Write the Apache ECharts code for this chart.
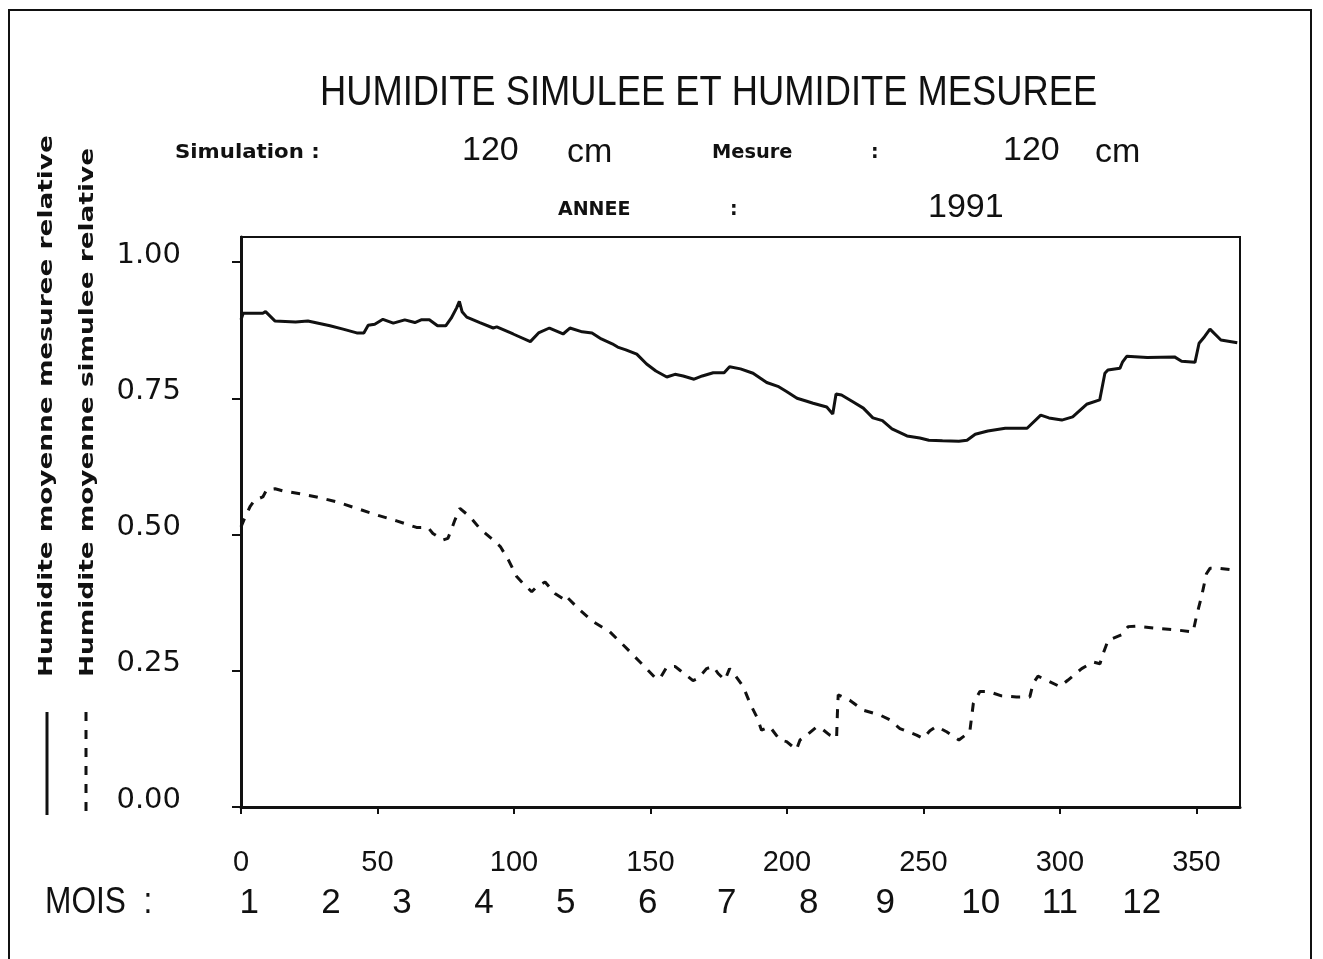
<!DOCTYPE html>
<html>
<head>
<meta charset="utf-8">
<title>Humidite simulee et humidite mesuree</title>
<script src="https://cdn.jsdelivr.net/npm/echarts@6/dist/echarts.min.js"></script>
<style>
  html, body { margin: 0; padding: 0; background: #fff; }
  #chart { width: 1323px; height: 959px; }
</style>
</head>
<body>
<div id="chart"></div>
<script>
// Day-of-year tick values and relative humidity ticks
const xTicks = [0, 50, 100, 150, 200, 250, 300, 350];
const yTicks = [0, 0.25, 0.5, 0.75, 1];

// Day positions where the month numbers are printed, and the numbers
const monthLabelDays = [3, 33, 59, 89, 119, 149, 178, 208, 236, 271, 300, 330];
const monthLabels = ['1', '2', '3', '4', '5', '6', '7', '8', '9', '10', '11', '12'];

// Mean measured relative humidity, 120 cm  [day, value]
const mesuree = [
  [0, 0.894], [0.8, 0.906], [8, 0.906], [9, 0.909], [12.4, 0.892], [20, 0.890],
  [24.5, 0.892], [32.6, 0.883], [37.4, 0.877], [42.4, 0.870], [45, 0.870],
  [46.6, 0.884], [49, 0.886], [52, 0.895], [55.8, 0.888], [60, 0.894],
  [63.7, 0.889], [66, 0.894], [69, 0.894], [72, 0.883], [75, 0.883], [77, 0.897],
  [79, 0.916], [80, 0.928], [81, 0.909], [82.7, 0.899], [87.5, 0.889],
  [92.4, 0.879], [93.7, 0.881], [99.7, 0.868], [106, 0.854], [109, 0.870],
  [113, 0.879], [118, 0.868], [120.5, 0.879], [125, 0.872], [128.6, 0.870],
  [132, 0.859], [136, 0.850], [138, 0.844], [141, 0.839], [145, 0.831],
  [148.6, 0.813], [152, 0.800], [156, 0.789], [159, 0.794], [162, 0.791],
  [166, 0.785], [169, 0.791], [173, 0.797], [177, 0.797], [179, 0.808],
  [183, 0.804], [187.6, 0.796], [192.6, 0.779], [196.7, 0.772], [200, 0.762],
  [203.7, 0.750], [207, 0.745], [209.6, 0.741], [214.6, 0.734], [216.8, 0.721],
  [218, 0.758], [220, 0.756], [224, 0.744], [228, 0.732], [231.5, 0.714],
  [235, 0.709], [238.5, 0.694], [244, 0.681], [248.7, 0.677], [252, 0.673],
  [257, 0.672], [263, 0.671], [266, 0.673], [269, 0.684], [273.6, 0.690],
  [280, 0.695], [288, 0.695], [293, 0.719], [296, 0.714], [300.7, 0.710],
  [304.7, 0.716], [309.8, 0.739], [314.6, 0.747], [316.5, 0.796], [317.6, 0.802],
  [322, 0.805], [323, 0.817], [324.5, 0.827], [332, 0.825], [342, 0.826],
  [344.6, 0.818], [349.5, 0.816], [351, 0.851], [353, 0.863], [355, 0.877],
  [359, 0.857], [365, 0.852]
];

// Mean simulated relative humidity, 120 cm  [day, value]
const simulee = [
  [0, 0.514], [1.5, 0.532], [3.3, 0.551], [5, 0.563], [8, 0.569], [9.4, 0.582],
  [12.5, 0.584], [15.5, 0.580], [21.6, 0.575], [27.7, 0.569], [35, 0.560],
  [42.4, 0.548], [49.7, 0.536], [57, 0.525], [64.3, 0.513], [68.5, 0.513],
  [70.3, 0.502], [74, 0.490], [75.8, 0.493], [77, 0.508], [78.4, 0.527],
  [80.2, 0.548], [84, 0.532], [87.5, 0.511], [92.4, 0.490], [95, 0.478],
  [98, 0.453], [101, 0.423], [103.4, 0.410], [106.5, 0.395], [108.3, 0.404],
  [111.4, 0.413], [115, 0.392], [118.7, 0.380], [119.3, 0.386], [124, 0.362],
  [129, 0.340], [135, 0.322], [140.7, 0.294], [146, 0.267], [152, 0.236],
  [153.5, 0.236], [156, 0.257], [159, 0.258], [160.8, 0.251], [165.6, 0.232],
  [167.4, 0.236], [170.6, 0.254], [173, 0.258], [174.8, 0.245], [177.3, 0.233],
  [179, 0.254], [181, 0.242], [184, 0.221], [186.5, 0.190], [189, 0.165],
  [190.7, 0.141], [193.8, 0.147], [197.4, 0.123], [199.9, 0.120], [203.5, 0.105],
  [204.8, 0.123], [207.8, 0.134], [210.9, 0.147], [212.7, 0.144], [215.7, 0.132],
  [218.2, 0.126], [218.5, 0.172], [218.8, 0.206], [223, 0.196], [227.8, 0.178],
  [234, 0.169], [237.7, 0.160], [241.4, 0.144], [247.5, 0.132], [249.9, 0.126],
  [252.4, 0.140], [254.8, 0.148], [258.5, 0.138], [263, 0.123], [267, 0.138],
  [268.3, 0.190], [270.7, 0.212], [273.8, 0.212], [278.6, 0.204], [284.1, 0.202],
  [289, 0.202], [290.2, 0.227], [292, 0.240], [295, 0.233], [300, 0.221],
  [303, 0.233], [308, 0.254], [312.2, 0.266], [314.7, 0.263], [315.9, 0.282],
  [317.7, 0.306], [322.6, 0.316], [325, 0.331], [328, 0.332], [335.4, 0.328],
  [342.7, 0.325], [348.8, 0.321], [350, 0.349], [351.9, 0.386], [353.7, 0.428],
  [355, 0.438], [358.6, 0.438], [363.5, 0.435], [365, 0.434]
];

const INK = '#111';
const thinFont = "'Liberation Sans', sans-serif";
const boldFont = "'DejaVu Sans', sans-serif";
const DASH = [9, 9];

function txt(x, y, text, size, family, opts) {
  opts = opts || {};
  return {
    type: 'text', x: x, y: y,
    rotation: opts.rotation || 0,
    scaleX: opts.scaleX || 1,
    silent: true,
    style: {
      text: text, fill: INK,
      fontSize: size, fontFamily: family,
      fontWeight: opts.weight || 'normal',
      align: opts.align || 'left', verticalAlign: 'middle'
    }
  };
}

const chart = echarts.init(document.getElementById('chart'), null, { renderer: 'canvas' });

chart.setOption({
  animation: false,
  backgroundColor: '#fff',
  grid: {
    left: 241, top: 237, right: 83, bottom: 152,
    show: true, borderColor: INK, borderWidth: 2, backgroundColor: 'transparent'
  },
  xAxis: [
    {
      type: 'value', min: 0, max: 366, position: 'bottom',
      axisLine: { show: true, onZero: false, lineStyle: { color: INK, width: 3 } },
      axisTick: { show: true, inside: false, length: 7, customValues: xTicks, lineStyle: { color: INK, width: 2 } },
      axisLabel: { customValues: xTicks, margin: 41, fontSize: 29, fontFamily: thinFont, color: INK },
      splitLine: { show: false }
    },
    {
      type: 'value', min: 0, max: 366, position: 'bottom',
      axisLine: { show: false },
      axisTick: { show: false },
      axisLabel: {
        customValues: monthLabelDays,
        formatter: function (v) { return monthLabels[monthLabelDays.indexOf(v)]; },
        margin: 79, fontSize: 35, fontFamily: thinFont, color: INK
      },
      splitLine: { show: false }
    }
  ],
  yAxis: {
    type: 'value', min: 0, max: 1.046,
    axisLine: { show: true, onZero: false, lineStyle: { color: INK, width: 3 } },
    axisTick: { show: true, inside: false, length: 9, customValues: yTicks, lineStyle: { color: INK, width: 2 } },
    axisLabel: {
      customValues: yTicks,
      formatter: function (v) { return v.toFixed(2); },
      margin: 60, fontSize: 29, fontFamily: boldFont, color: INK,
      verticalAlign: 'bottom', lineHeight: 14
    },
    splitLine: { show: false }
  },
  series: [
    {
      name: 'Humidite moyenne mesuree relative',
      type: 'line', xAxisIndex: 0, data: mesuree,
      showSymbol: false, smooth: false,
      lineStyle: { color: INK, width: 3 }
    },
    {
      name: 'Humidite moyenne simulee relative',
      type: 'line', xAxisIndex: 0, data: simulee,
      showSymbol: false, smooth: false,
      lineStyle: { color: INK, width: 3, type: DASH }
    }
  ],
  graphic: [
    // page frame
    { type: 'rect', silent: true, shape: { x: 9, y: 10, width: 1302, height: 980 },
      style: { fill: 'none', stroke: INK, lineWidth: 2 } },
    // headings
    txt(320, 93, 'HUMIDITE SIMULEE ET HUMIDITE MESUREE', 43, thinFont, { scaleX: 0.845 }),
    txt(175, 153, 'Simulation :', 19, boldFont, { weight: 'bold', scaleX: 1.12 }),
    txt(462, 151, '120', 34, thinFont),
    txt(567, 153, 'cm', 34, thinFont),
    txt(712, 153, 'Mesure', 19, boldFont, { weight: 'bold', scaleX: 1.02 }),
    txt(871, 153, ':', 19, boldFont, { weight: 'bold' }),
    txt(1003, 151, '120', 34, thinFont),
    txt(1095, 153, 'cm', 34, thinFont),
    txt(558, 210, 'ANNEE', 19, boldFont, { weight: 'bold' }),
    txt(730, 210, ':', 19, boldFont, { weight: 'bold' }),
    txt(928, 208, '1991', 34, thinFont),
    // axis captions (vertical) with their line keys
    txt(47, 677, 'Humidite moyenne mesuree relative', 20, boldFont, { weight: 'bold', rotation: Math.PI / 2, scaleX: 1.317 }),
    txt(88, 677, 'Humidite moyenne simulee relative', 20, boldFont, { weight: 'bold', rotation: Math.PI / 2, scaleX: 1.317 }),
    { type: 'line', silent: true, shape: { x1: 47, y1: 712, x2: 47, y2: 815 },
      style: { stroke: INK, lineWidth: 3 } },
    { type: 'line', silent: true, shape: { x1: 86, y1: 712, x2: 86, y2: 815 },
      style: { stroke: INK, lineWidth: 3, lineDash: DASH } },
    // month caption
    txt(45, 903, 'MOIS  :', 36, thinFont, { scaleX: 0.88 })
  ]
});
</script>
</body>
</html>
